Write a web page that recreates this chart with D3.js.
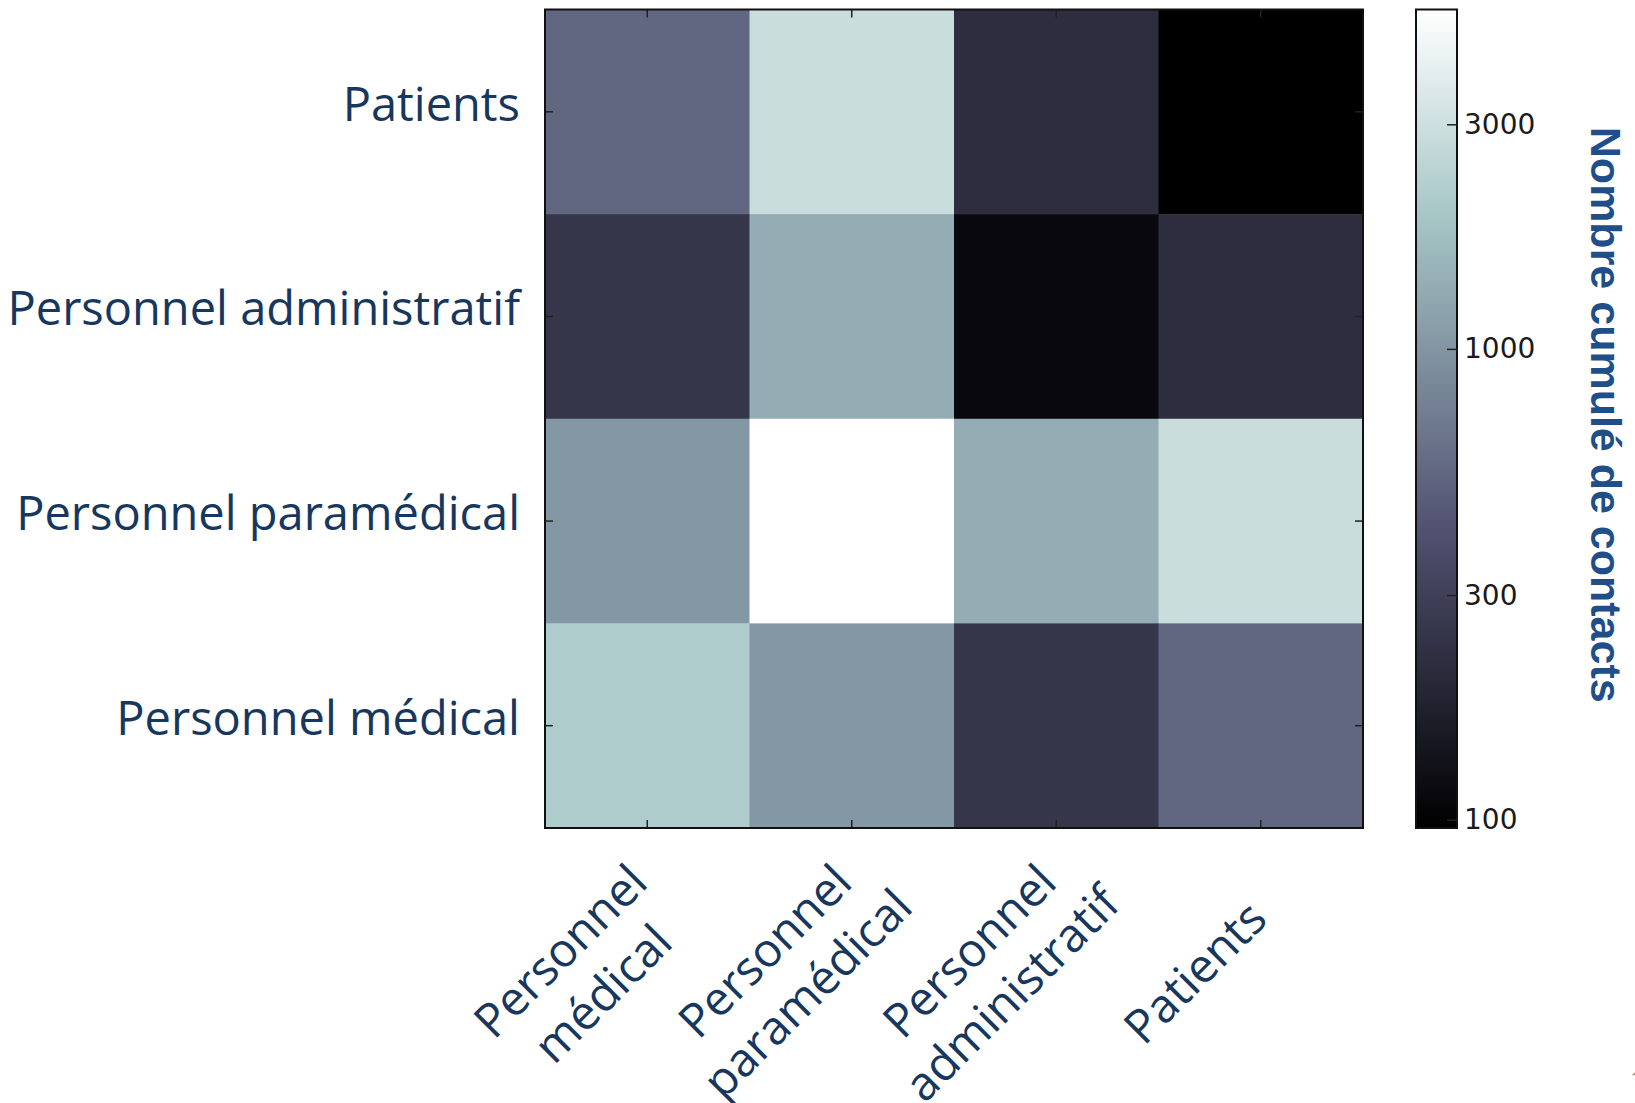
<!DOCTYPE html>
<html lang="fr">
<head>
<meta charset="UTF-8">
<title>Nombre cumulé de contacts</title>
<style>
  body { margin: 0; background: #fff; }
  svg { display: block; }
  .lab { font-family: "Open Sans", sans-serif; font-size: 47px; fill: #17375e; }
  .cbar text { font-family: "DejaVu Sans", sans-serif; font-size: 28px; fill: #1a1a1a; }
  .cbtitle { font-family: "Liberation Sans", Arial, sans-serif; font-weight: bold; font-size: 43px; fill: #1f4e89; }
</style>
</head>
<body>
<svg id="chart" width="1635" height="1103"></svg>
<script src="https://cdnjs.cloudflare.com/ajax/libs/d3/7.8.5/d3.min.js"></script>
<script>
// rows top -> bottom, columns left -> right
const rowNames = ["Patients", "Personnel administratif", "Personnel paramédical", "Personnel médical"];
const colNames = ["Personnel médical", "Personnel paramédical", "Personnel administratif", "Patients"];
const colLines = [["Personnel", "médical"], ["Personnel", "paramédical"], ["Personnel", "administratif"], ["Patients"]];

// cumulated contacts, one array per row
const rowPatients = [545, 2860, 216, 96];
const rowAdmin    = [253, 1360, 113, 216];
const rowParamed  = [1020, 5260, 1360, 2860];
const rowMedical  = [2100, 1020, 253, 545];
const matrix = [rowPatients, rowAdmin, rowParamed, rowMedical];

const cbTicks = [100, 300, 1000, 3000];
const cbTitle = "Nombre cumulé de contacts";

const svg = d3.select("#chart");
const box = { left: 545, right: 1363, top: 9.5, bottom: 828 };
const cb = { left: 1416, right: 1457 };

const x = d3.scaleBand().domain(colNames).range([box.left, box.right]);
const y = d3.scaleBand().domain(rowNames).range([box.top, box.bottom]);

// matplotlib "bone" colormap
const boneR = d3.scaleLinear().domain([0, 0.746032, 1]).range([0, 0.652778, 1]);
const boneG = d3.scaleLinear().domain([0, 0.365079, 0.746032, 1]).range([0, 0.319444, 0.777778, 1]);
const boneB = d3.scaleLinear().domain([0, 0.365079, 1]).range([0, 0.444444, 1]);
function bone(t) {
    return d3.rgb(boneR(t) * 255, boneG(t) * 255, boneB(t) * 255).formatHex();
}

const cells = matrix.flatMap((row, i) => row.map((v, j) => ({ r: rowNames[i], c: colNames[j], v: v })));
const extent = d3.extent(cells, d => d.v);
const norm = d3.scaleLog().domain(extent).range([0, 1]);

svg.append("g").selectAll("rect")
    .data(cells)
    .join("rect")
    .attr("x", d => x(d.c))
    .attr("y", d => y(d.r))
    .attr("width", x.bandwidth() + 0.5)
    .attr("height", y.bandwidth() + 0.5)
    .attr("fill", d => bone(norm(d.v)));

// inward ticks on all four sides
function inner(axis) {
    return axis.tickSizeInner(-8).tickSizeOuter(0).tickFormat("");
}
const tickGroups = [
    [d3.axisBottom(x), `translate(0,${box.bottom})`],
    [d3.axisTop(x), `translate(0,${box.top})`],
    [d3.axisLeft(y), `translate(${box.left},0)`],
    [d3.axisRight(y), `translate(${box.right},0)`]
];
tickGroups.forEach(([ax, tr]) => {
    const g = svg.append("g").attr("transform", tr).call(inner(ax));
    g.select(".domain").remove();
    g.selectAll("line").attr("stroke", "#222").attr("stroke-width", 1.5);
});

svg.append("rect")
    .attr("x", box.left).attr("y", box.top)
    .attr("width", box.right - box.left).attr("height", box.bottom - box.top)
    .attr("fill", "none").attr("stroke", "#111").attr("stroke-width", 2);

// row labels
svg.append("g").selectAll("text")
    .data(rowNames)
    .join("text")
    .attr("class", "lab")
    .attr("x", box.left - 25)
    .attr("y", d => y(d) + y.bandwidth() / 2 + 9)
    .attr("text-anchor", "end")
    .text(d => d);

// column labels, rotated -45deg, centred lines
const colG = svg.append("g").selectAll("g")
    .data(colLines.map((lines, j) => ({ lines: lines, c: colNames[j] })))
    .join("g")
    .attr("transform", d => `translate(${x(d.c) + x.bandwidth() / 2 - 54},${box.bottom + 156}) rotate(-45)`);
colG.selectAll("text")
    .data(d => d.lines.map((t, i) => ({ t: t, off: (i - (d.lines.length - 1) / 2) * 60 })))
    .join("text")
    .attr("class", "lab")
    .attr("text-anchor", "middle")
    .attr("y", d => d.off)
    .text(d => d.t);

// colour bar
const cbY = d3.scaleLog().domain(extent).range([box.bottom, box.top]);
const grad = svg.append("defs").append("linearGradient")
    .attr("id", "boneGrad")
    .attr("x1", 0).attr("y1", 1).attr("x2", 0).attr("y2", 0);
grad.selectAll("stop")
    .data(d3.range(0, 1.0001, 0.02))
    .join("stop")
    .attr("offset", d => d)
    .attr("stop-color", d => bone(d));

svg.append("rect")
    .attr("x", cb.left).attr("y", box.top)
    .attr("width", cb.right - cb.left).attr("height", box.bottom - box.top)
    .attr("fill", "url(#boneGrad)")
    .attr("stroke", "#111").attr("stroke-width", 2);

const cbAxis = svg.append("g")
    .attr("class", "cbar")
    .attr("transform", `translate(${cb.right},0)`)
    .call(d3.axisRight(cbY).tickValues(cbTicks).tickFormat(d3.format("d"))
        .tickSizeInner(-10).tickSizeOuter(0).tickPadding(7));
cbAxis.select(".domain").remove();
cbAxis.selectAll("line").attr("stroke", "#222").attr("stroke-width", 1.5);

svg.append("text")
    .attr("class", "cbtitle")
    .attr("transform", `translate(1591,${(box.top + box.bottom) / 2 - 4}) rotate(90)`)
    .attr("text-anchor", "middle")
    .text(cbTitle);

// cut page number at the slide edge
svg.append("text")
    .attr("x", 1630).attr("y", 1088)
    .attr("font-family", "Open Sans, sans-serif").attr("font-size", 24)
    .attr("fill", "#999")
    .text("1");
</script>
</body>
</html>
